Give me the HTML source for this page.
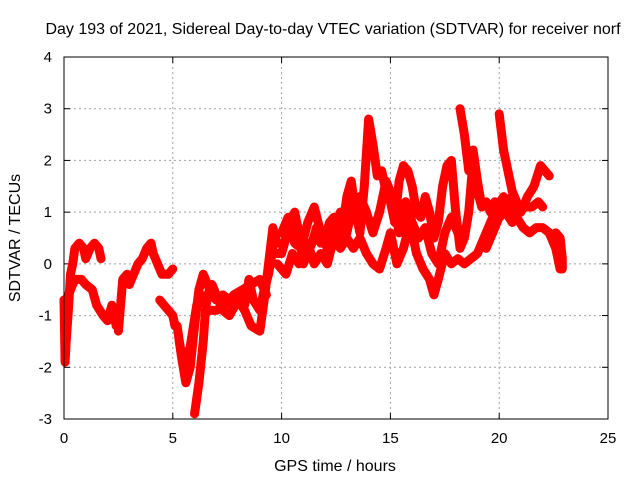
<!DOCTYPE html>
<html><head><meta charset="utf-8"><style>
body{margin:0;background:#fff}
svg{display:block;font-family:"Liberation Sans",sans-serif}
</style></head><body>
<svg id="c" width="640" height="480">
<rect width="640" height="480" fill="#fff"/>
<text x="333" y="34" font-size="16" text-anchor="middle">Day 193 of 2021, Sidereal Day-to-day VTEC variation (SDTVAR) for receiver norf</text>
<text x="335" y="471" font-size="16" text-anchor="middle">GPS time / hours</text>
<text transform="translate(20,238) rotate(-90)" font-size="16" text-anchor="middle">SDTVAR / TECUs</text>
<g id="grid"></g><g id="ticks"></g><g id="marks"></g>
<rect x="64" y="57" width="544" height="362" fill="none" stroke="#000" stroke-width="1"/>
</svg>
<script>
const xTicks=[0,5,10,15,20,25];
const yTicks=[-3,-2,-1,0,1,2,3,4];
const trackA=[[0,-0.7],[0.05,-1.9],[0.1,-1.5],[0.2,-0.9],[0.3,-0.2],[0.4,0.0],[0.5,0.3],[0.7,0.4],[0.9,0.3],[1.0,0.1],[1.2,0.3],[1.4,0.4],[1.6,0.3],[1.7,0.1]];
const trackB=[[0.1,-0.7],[0.3,-0.5],[0.5,-0.3],[0.8,-0.3],[1.0,-0.4],[1.3,-0.5],[1.5,-0.8],[1.8,-1.0],[2.0,-1.1],[2.2,-0.8],[2.4,-1.2]];
const trackC=[[2.5,-1.3],[2.6,-0.8],[2.7,-0.3],[2.9,-0.2],[3.0,-0.4],[3.2,-0.2],[3.4,0.0],[3.6,0.1],[3.8,0.3],[4.0,0.4],[4.1,0.2],[4.3,0.0],[4.5,-0.2],[4.8,-0.2],[5.0,-0.1]];
const trackC2=[[4.4,-0.7],[4.6,-0.8],[4.8,-0.9],[5.0,-1.0],[5.1,-1.2]];
const trackD=[[5.2,-1.2],[5.4,-1.8],[5.6,-2.3],[5.8,-2.0],[6.0,-1.2],[6.2,-0.5],[6.4,-0.2],[6.6,-0.4],[6.8,-0.6],[7.0,-0.7],[7.3,-0.6],[7.6,-0.7],[8.0,-0.6],[8.3,-0.8],[8.5,-0.3],[8.7,-0.7],[9.0,-0.9],[9.2,-0.5],[9.4,-0.2],[9.6,0.3]];
const trackE=[[6.0,-2.9],[6.2,-2.3],[6.4,-1.5],[6.5,-0.9],[6.6,-0.6],[6.8,-0.4],[7.0,-0.6],[7.3,-0.9],[7.6,-1.0],[8.0,-0.7],[8.3,-0.9],[8.6,-1.2],[9.0,-1.3],[9.2,-0.7],[9.4,0.0],[9.6,0.7],[9.8,0.4]];
const trackE2=[[5.3,-1.5],[5.5,-2.0],[5.8,-1.6],[6.1,-0.8],[6.3,-0.6],[6.6,-0.9],[7.0,-0.9],[7.4,-0.8],[7.8,-0.6],[8.2,-0.5],[8.6,-0.4],[9.0,-0.3],[9.3,-0.6]];
const trackF=[[9.8,0.2],[10.0,0.2],[10.2,0.5],[10.4,0.8],[10.6,1.0],[10.8,0.6],[11.0,0.0],[11.2,0.2],[11.4,0.4],[11.6,0.7],[11.8,0.4],[12.0,0.5],[12.2,0.8],[12.4,0.9],[12.6,0.4],[12.8,0.7],[13.0,1.3],[13.2,1.6],[13.4,1.0],[13.6,0.6],[13.8,1.5],[14.0,2.8],[14.2,2.3],[14.4,1.7],[14.6,1.8],[14.8,1.4],[15.0,1.2],[15.2,0.8],[15.4,1.6],[15.6,1.9],[15.8,1.8],[16.0,1.5],[16.2,1.0],[16.4,0.9],[16.6,1.3],[16.8,1.0],[17.0,0.5],[17.2,0.8],[17.4,1.5],[17.6,1.9],[17.8,2.0],[18.0,1.0],[18.2,0.3],[18.4,0.5],[18.6,1.0],[18.8,2.0],[19.0,1.4],[19.2,1.1],[19.4,1.2],[19.6,1.0],[19.8,1.2],[20.0,1.1],[20.3,1.2],[20.6,1.3],[21.0,1.0],[21.3,1.3],[21.6,1.5],[21.9,1.9],[22.1,1.8],[22.3,1.7]];
const trackF2=[[10.0,0.6],[10.3,0.9],[10.6,0.4],[10.9,0.3],[11.2,0.8],[11.5,1.1],[11.8,0.6],[12.1,0.3],[12.4,0.6],[12.7,1.0],[13.0,0.6],[13.3,1.2],[13.6,1.3],[13.9,1.0],[14.2,0.6],[14.5,1.0],[14.8,1.6],[15.1,1.3],[15.4,0.6],[15.7,1.2],[16.0,0.8],[16.3,0.5],[16.6,0.7],[16.9,0.2],[17.2,0.0],[17.5,0.6],[17.8,0.9],[18.1,0.6]];
const trackG=[[9.8,0.0],[10.2,-0.2],[10.5,0.2],[10.8,0.0],[11.2,0.4],[11.5,0.0],[11.8,0.2],[12.1,0.0],[12.4,0.5],[12.7,0.3],[13.0,0.5],[13.3,0.3],[13.6,0.5],[13.9,0.2],[14.2,0.0],[14.5,-0.1],[14.8,0.3],[15.0,0.6],[15.3,0.0],[15.6,0.3],[15.9,0.8],[16.2,0.2],[16.5,-0.1],[16.8,-0.3],[17.0,-0.6],[17.2,-0.3],[17.5,0.2],[17.8,0.0],[18.1,0.1],[18.4,0.0],[18.7,0.1],[19.0,0.2],[19.3,0.5],[19.6,0.8],[19.9,1.1],[20.2,1.3],[20.5,1.1],[20.8,0.9],[21.1,0.7],[21.4,0.6],[21.7,0.7],[22.0,0.7],[22.3,0.6],[22.6,0.3],[22.8,-0.1]];
const trackH=[[18.2,3.0],[18.4,2.5],[18.6,1.8],[18.8,2.2],[19.0,1.6],[19.2,1.1]];
const trackI=[[20.0,2.9],[20.2,2.2],[20.4,1.8],[20.6,1.4],[20.8,1.2]];
const trackJ=[[22.6,0.6],[22.8,0.5],[22.9,0.1],[22.9,-0.1]];
const trackK=[[19.4,0.3],[19.7,0.6],[20.0,0.9],[20.3,1.0],[20.6,0.8],[20.9,1.0],[21.2,1.1],[21.5,1.1],[21.8,1.2],[22.0,1.1]];
const tracks=[trackA,trackB,trackC,trackC2,trackD,trackE,trackE2,trackF,trackF2,trackG,trackH,trackI,trackJ,trackK];
const X=h=>64+h*544/25, Y=v=>57+(4-v)*362/7;
const NS="http://www.w3.org/2000/svg";
const grid=document.getElementById('grid'),ticks=document.getElementById('ticks'),marks=document.getElementById('marks');
function mk(t,a,p){const e=document.createElementNS(NS,t);for(const k in a)e.setAttribute(k,a[k]);p.appendChild(e);return e;}
xTicks.forEach(t=>{const x=X(t);
 if(t>0&&t<25){const g=mk('line',{x1:x,x2:x,y1:57,y2:419,stroke:'#a0a0a0','stroke-dasharray':'2,3'},grid);
 
 }
 mk('line',{x1:x,x2:x,y1:419,y2:413,stroke:'#000'},ticks);mk('line',{x1:x,x2:x,y1:57,y2:63,stroke:'#000'},ticks);
 const l=mk('text',{x:x,y:443,'font-size':15,'text-anchor':'middle'},ticks);l.textContent=t;
 
 });
yTicks.forEach(t=>{const y=Y(t);
 if(t>-3&&t<4){const g=mk('line',{x1:64,x2:608,y1:y,y2:y,stroke:'#a0a0a0','stroke-dasharray':'2,3'},grid);
 
 }
 mk('line',{x1:64,x2:70,y1:y,y2:y,stroke:'#000'},ticks);mk('line',{x1:608,x2:602,y1:y,y2:y,stroke:'#000'},ticks);
 const l=mk('text',{x:52,y:y+5,'font-size':15,'text-anchor':'end'},ticks);l.textContent=t;
 
 });
tracks.forEach(tr=>{
 const pl=mk('polyline',{points:tr.map(p=>X(p[0])+','+Y(p[1])).join(' '),fill:'none',stroke:'#f00','stroke-width':9,'stroke-linejoin':'round','stroke-linecap':'round'},marks);
 
 
 tr.forEach(p=>{const x=X(p[0]),y=Y(p[1]);
  const m=mk('path',{d:`M${x-4},${y}H${x+4}M${x},${y-4}V${y+4}`,stroke:'#f00','stroke-width':1.2},marks);
  
  });
});
</script>
</body></html>
